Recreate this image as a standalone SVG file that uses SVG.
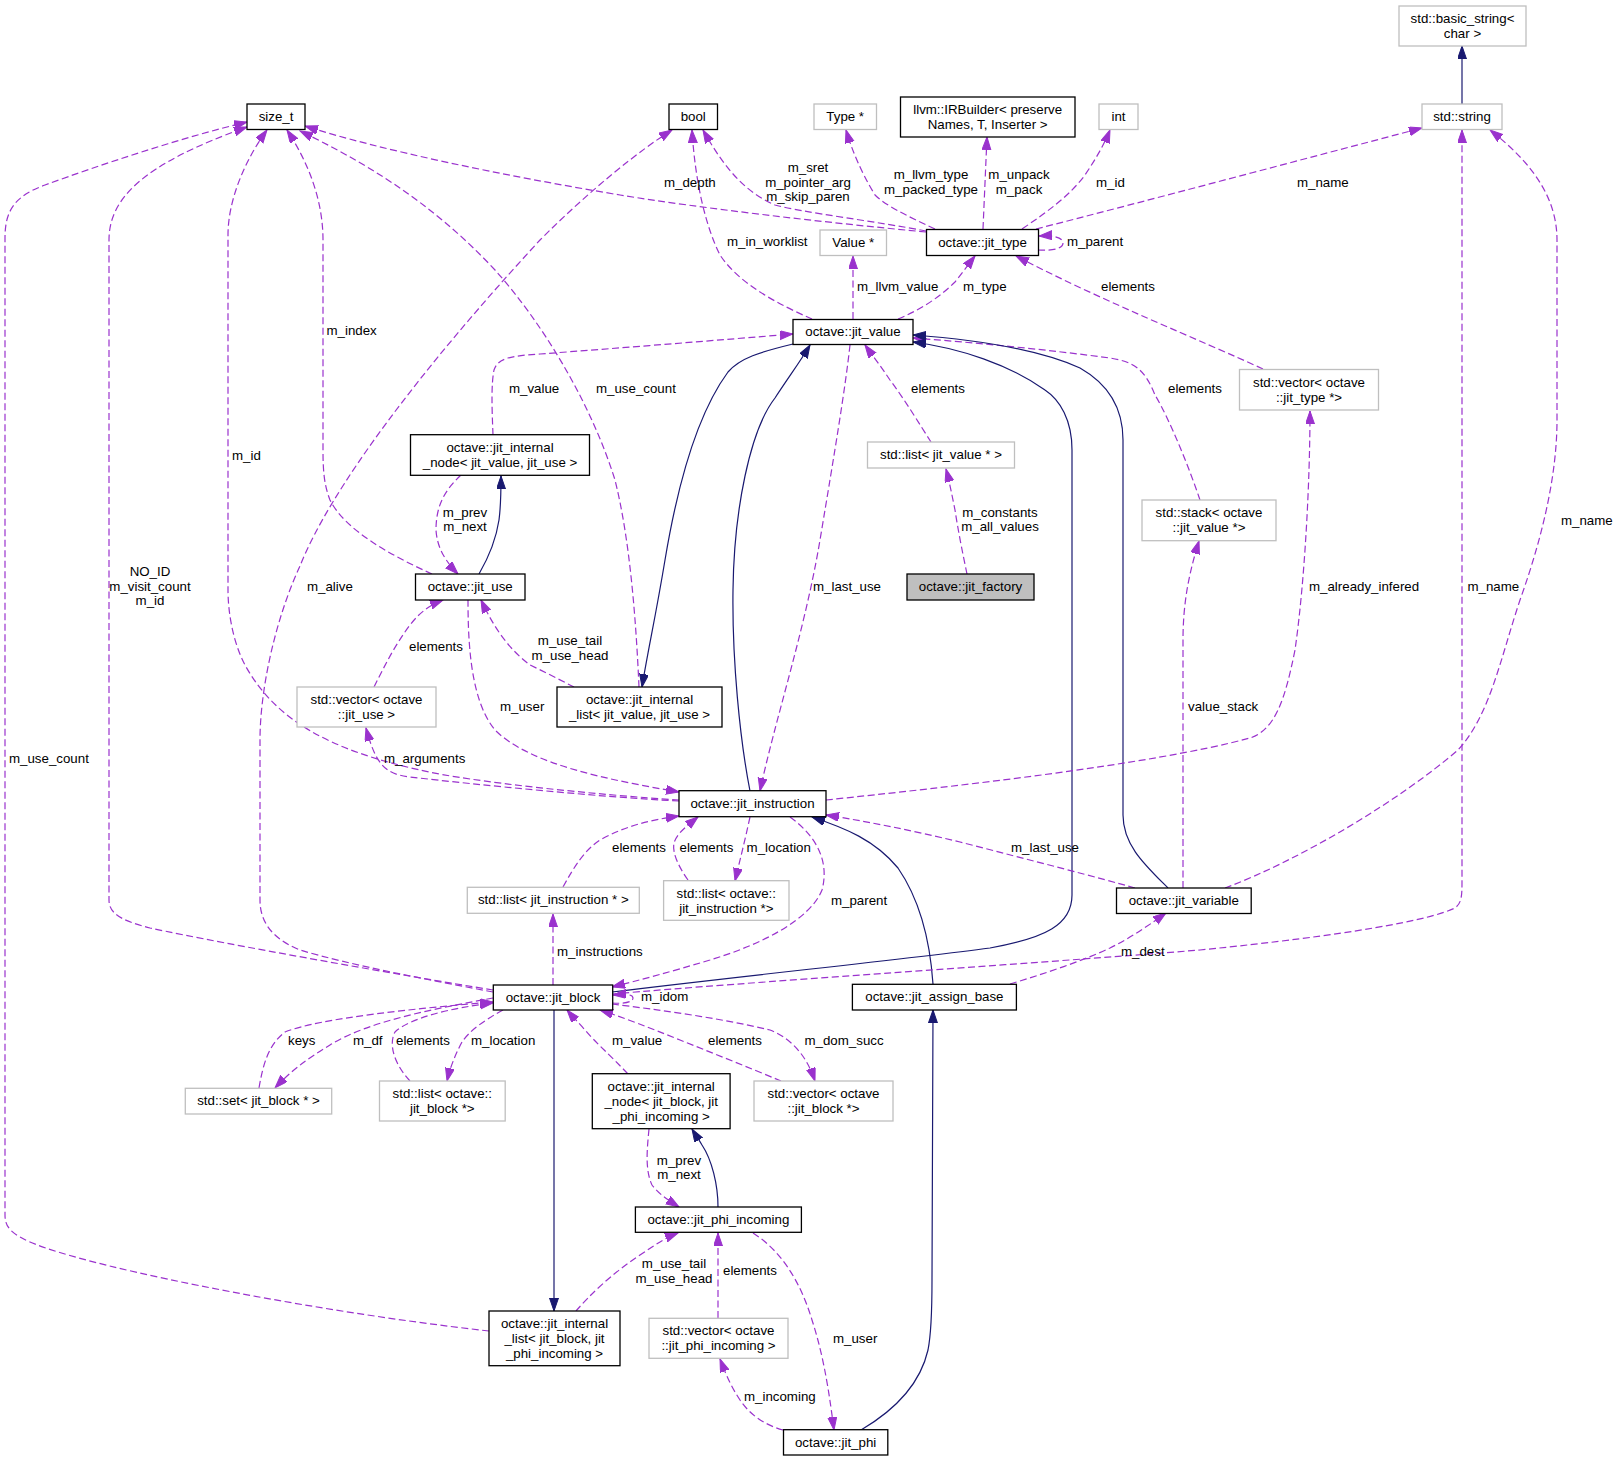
<svg xmlns="http://www.w3.org/2000/svg" width="1620" height="1461" viewBox="0 0 1620 1461">
<style>
text{font-family:"Liberation Sans",Arial,Helvetica,sans-serif;font-size:13.3px;fill:#000}
.n rect{fill:#fff;stroke:#000;stroke-width:1.3}
.n.g rect{stroke:#bfbfbf}
.n.f rect{fill:#bfbfbf}
.n text{text-anchor:middle}
.e path{fill:none;stroke:#9a32cd;stroke-width:1.2;stroke-dasharray:7,3.5;marker-end:url(#ap)}
.e path.i{stroke:#191970;stroke-dasharray:none;marker-end:url(#an)}
.l text.m{text-anchor:middle}
</style>
<defs>
<marker id="ap" markerUnits="userSpaceOnUse" markerWidth="14" markerHeight="10" refX="13" refY="4.5" orient="auto"><path d="M0,0 L13,4.5 L0,9 z" fill="#9a32cd" stroke="#9a32cd"/></marker>
<marker id="an" markerUnits="userSpaceOnUse" markerWidth="14" markerHeight="10" refX="13" refY="4.5" orient="auto"><path d="M0,0 L13,4.5 L0,9 z" fill="#191970" stroke="#191970"/></marker>
</defs>
<rect width="1620" height="1461" fill="#fff"/>

<g id="connectors" class="e">
<path class="i" d="M1462,104 L1462,46"/>
<path d="M489,1331 C300,1310 60,1262 20,1237 C8,1230 5,1224 5,1215 L5,238 C5,210 15,196 45,185 C100,165 180,138 247,122"/>
<path d="M493,990 C400,975 230,945 150,928 C118,920 109,912 109,900 L109,240 C109,200 140,165 247,127"/>
<path d="M679,800 C600,795 470,782 420,770 C330,750 275,720 245,665 C232,640 228,610 228,590 L228,235 C228,200 245,160 267,130"/>
<path d="M432,574 C390,555 345,530 330,500 C324,485 323,470 323,450 L323,240 C323,190 300,150 287,130"/>
<path d="M639,687 C636,620 630,540 615,480 C590,400 540,320 495,270 C430,200 360,160 300,131"/>
<path d="M926,232 C820,222 700,208 620,195 C500,175 380,150 305,126"/>
<path d="M926,231 C880,222 800,212 775,205 C740,190 720,160 703,130"/>
<path d="M812,319 C780,305 740,285 720,255 C705,225 695,180 692,130"/>
<path d="M493,992 C430,980 350,965 300,950 C270,938 260,920 260,900 L260,740 C260,690 275,620 300,566 C330,490 420,370 540,240 C590,190 640,150 672,130"/>
<path d="M935,229 C905,215 885,205 875,195 C860,170 852,150 846,130"/>
<path d="M983,229 L987,137"/>
<path d="M1022,229 C1050,210 1070,195 1085,175 C1095,160 1104,145 1110,130"/>
<path d="M1036,229 C1150,200 1300,160 1422,128"/>
<path d="M1038,250 C1055,251 1063,248 1063,243 C1063,238 1055,235 1039,236"/>
<path d="M1263,369 C1200,340 1100,300 1016,256"/>
<path d="M853,319 L853,256"/>
<path d="M898,319 C920,310 940,297 955,282 C963,272 968,265 975,256"/>
<path d="M493,435 C492,410 491,385 494,370 C498,358 510,356 540,354 C620,348 720,340 793,334"/>
<path d="M931,442 C920,425 905,400 890,380 C880,365 872,355 865,345"/>
<path d="M1200,500 C1190,470 1170,420 1155,395 C1145,370 1135,362 1110,358 C1050,350 980,343 913,338"/>
<path class="i" d="M1168,888 C1145,865 1123,845 1123,815 L1123,440 C1123,410 1110,385 1080,368 C1040,350 980,340 913,335"/>
<path class="i" d="M612,992 C750,975 900,960 990,948 C1045,938 1072,925 1072,895 L1072,450 C1072,420 1060,400 1045,390 C1010,365 960,348 913,342"/>
<path class="i" d="M793,344 C760,352 740,358 728,372 C700,410 680,470 665,560 C655,620 648,650 642,687"/>
<path class="i" d="M750,791 C740,740 732,660 733,590 C734,510 750,430 775,398 C790,375 800,362 810,345"/>
<path d="M850,345 C845,390 835,450 820,540 C805,630 775,720 760,791"/>
<path class="i" d="M479,574 C490,555 496,540 499,520 C501,505 501,490 501,476"/>
<path d="M461,475 C445,490 436,505 436,530 C437,548 446,562 458,574"/>
<path d="M374,687 C385,665 395,645 410,625 C420,612 430,605 443,600"/>
<path d="M574,687 C560,680 545,672 530,665 C510,650 495,630 481,600"/>
<path d="M468,600 C468,640 470,700 495,730 C530,765 610,780 679,792"/>
<path d="M679,801 C600,797 480,785 410,777 C385,774 376,765 366,728"/>
<path d="M826,800 C950,787 1150,765 1250,738 C1275,730 1285,700 1295,650 C1305,580 1310,480 1310,411"/>
<path d="M967,574 C963,555 958,530 955,510 C952,495 949,480 946,469"/>
<path d="M563,887 C575,865 585,850 600,840 C625,826 650,820 679,816"/>
<path d="M688,880 C678,866 672,852 674,843 C677,833 688,825 698,817"/>
<path d="M750,817 C745,840 740,860 735,881"/>
<path d="M790,817 C815,835 830,860 822,890 C810,920 760,945 710,960 C670,972 640,980 612,987"/>
<path d="M1135,888 C1100,878 1030,860 960,842 C910,830 870,822 826,815"/>
<path class="i" d="M933,984 C930,940 920,900 898,868 C875,840 845,828 812,817"/>
<path d="M1183,888 L1183,640 C1183,600 1190,570 1199,541"/>
<path d="M1225,888 C1300,860 1400,800 1458,750 C1490,715 1500,660 1520,600 C1545,530 1557,470 1557,420 L1557,240 C1557,200 1535,165 1490,130"/>
<path d="M612,994 C750,982 1000,966 1200,950 C1350,935 1430,920 1455,908 C1462,903 1462,895 1462,880 L1462,130"/>
<path d="M1010,984 C1040,975 1080,962 1110,948 C1130,938 1145,928 1166,913"/>
<path d="M553,985 L553,914"/>
<path d="M612,1003 C625,1004 633,1002 633,998 C633,994 625,994 613,995"/>
<path d="M259,1088 C263,1065 268,1045 285,1032 C320,1018 420,1008 493,1002"/>
<path d="M493,998 C440,1008 370,1020 330,1045 C305,1060 290,1072 275,1088"/>
<path d="M410,1081 C395,1065 388,1045 395,1032 C410,1018 450,1008 493,1003"/>
<path d="M503,1010 C485,1020 470,1030 462,1042 C455,1055 450,1068 447,1081"/>
<path d="M628,1074 C610,1055 595,1042 585,1030 C578,1022 572,1016 567,1010"/>
<path d="M781,1081 C750,1068 710,1052 680,1040 C650,1028 625,1018 600,1010"/>
<path d="M612,1004 C660,1010 720,1018 770,1030 C795,1040 808,1060 815,1081"/>
<path class="i" d="M554,1010 L554,1311"/>
<path d="M649,1129 C647,1150 645,1170 652,1185 C660,1195 668,1200 679,1207"/>
<path class="i" d="M718,1207 C718,1185 712,1160 702,1145 C698,1138 695,1134 692,1129"/>
<path d="M576,1311 C590,1295 610,1275 640,1255 C655,1245 665,1238 678,1233"/>
<path d="M718,1318 L718,1233"/>
<path d="M753,1233 C780,1250 800,1280 812,1320 C825,1360 830,1400 834,1430"/>
<path d="M783,1430 C765,1425 750,1415 740,1400 C730,1385 725,1372 720,1359"/>
<path class="i" d="M861,1430 C895,1410 920,1385 928,1350 C932,1330 932,1300 932,1280 L933,1010"/>
</g>

<g id="labels" class="l">
<text x="326.5" y="335">m_index</text>
<text x="509" y="393">m_value</text>
<text x="596" y="393">m_use_count</text>
<text x="664" y="187">m_depth</text>
<text class="m" x="808" y="172">m_sret</text>
<text class="m" x="808" y="187">m_pointer_arg</text>
<text class="m" x="808" y="201">m_skip_paren</text>
<text class="m" x="931" y="179">m_llvm_type</text>
<text class="m" x="931" y="194">m_packed_type</text>
<text class="m" x="1019" y="179">m_unpack</text>
<text class="m" x="1019" y="194">m_pack</text>
<text x="1096" y="187">m_id</text>
<text x="1297" y="187">m_name</text>
<text x="727" y="246">m_in_worklist</text>
<text x="1067" y="246">m_parent</text>
<text x="857" y="291">m_llvm_value</text>
<text x="963" y="291">m_type</text>
<text x="1101" y="291">elements</text>
<text x="911" y="393">elements</text>
<text x="1168" y="393">elements</text>
<text x="232" y="459.5">m_id</text>
<text class="m" x="465" y="517">m_prev</text>
<text class="m" x="465" y="531">m_next</text>
<text class="m" x="150" y="576">NO_ID</text>
<text class="m" x="150" y="591">m_visit_count</text>
<text class="m" x="150" y="605">m_id</text>
<text x="307" y="591">m_alive</text>
<text x="409" y="651">elements</text>
<text x="500" y="711">m_user</text>
<text x="9" y="763">m_use_count</text>
<text x="384" y="763">m_arguments</text>
<text class="m" x="570" y="644.5">m_use_tail</text>
<text class="m" x="570" y="659.5">m_use_head</text>
<text x="813" y="591">m_last_use</text>
<text class="m" x="1000" y="517">m_constants</text>
<text class="m" x="1000" y="531">m_all_values</text>
<text x="1309" y="591">m_already_infered</text>
<text x="1467.5" y="591">m_name</text>
<text x="1561" y="524.5">m_name</text>
<text x="1188" y="711">value_stack</text>
<text x="612" y="852">elements</text>
<text x="679.5" y="852">elements</text>
<text x="746.6" y="852">m_location</text>
<text x="1011" y="852">m_last_use</text>
<text x="831" y="904.5">m_parent</text>
<text x="557" y="956">m_instructions</text>
<text x="1121" y="956">m_dest</text>
<text x="641" y="1001">m_idom</text>
<text x="288" y="1045">keys</text>
<text x="353" y="1045">m_df</text>
<text x="396" y="1045">elements</text>
<text x="471" y="1045">m_location</text>
<text x="612" y="1045">m_value</text>
<text x="708" y="1045">elements</text>
<text x="804.5" y="1045">m_dom_succ</text>
<text class="m" x="679" y="1164.5">m_prev</text>
<text class="m" x="679" y="1179">m_next</text>
<text class="m" x="674" y="1268">m_use_tail</text>
<text class="m" x="674" y="1283">m_use_head</text>
<text x="723" y="1275">elements</text>
<text x="833" y="1342.5">m_user</text>
<text x="744" y="1401">m_incoming</text>
</g>

<g id="size_t" class="n"><rect x="247" y="104" width="58" height="25.5"/><text x="276" y="120.5">size_t</text></g>
<g id="bool" class="n"><rect x="669" y="104" width="48.5" height="25.5"/><text x="693.2" y="120.5">bool</text></g>
<g id="type_ptr" class="n g"><rect x="814" y="104" width="62.5" height="25.5"/><text x="845.2" y="120.5">Type *</text></g>
<g id="irbuilder" class="n"><rect x="900.5" y="97" width="174.5" height="40"/><text x="987.7" y="114">llvm::IRBuilder&lt; preserve</text><text x="987.7" y="129">Names, T, Inserter &gt;</text></g>
<g id="int" class="n g"><rect x="1099" y="104" width="39" height="25.5"/><text x="1118.5" y="120.5">int</text></g>
<g id="basic_string" class="n g"><rect x="1399" y="6" width="127" height="40"/><text x="1462.5" y="23">std::basic_string&lt;</text><text x="1462.5" y="38">char &gt;</text></g>
<g id="std_string" class="n g"><rect x="1422" y="104" width="80" height="25.5"/><text x="1462" y="120.5">std::string</text></g>
<g id="jit_type" class="n"><rect x="926.5" y="229.5" width="112" height="26"/><text x="982.5" y="246.5">octave::jit_type</text></g>
<g id="value_ptr" class="n g"><rect x="820" y="230" width="66.5" height="25.5"/><text x="853.2" y="246.5">Value *</text></g>
<g id="jit_value" class="n"><rect x="793" y="319.5" width="120" height="25"/><text x="853" y="336">octave::jit_value</text></g>
<g id="vector_jit_type" class="n g"><rect x="1239.5" y="369.5" width="139" height="40.5"/><text x="1309" y="386.5">std::vector&lt; octave</text><text x="1309" y="401.5">::jit_type *&gt;</text></g>
<g id="internal_node_value" class="n"><rect x="410.5" y="434.7" width="179" height="40.6"/><text x="500" y="451.5">octave::jit_internal</text><text x="500" y="466.5">_node&lt; jit_value, jit_use &gt;</text></g>
<g id="list_jit_value" class="n g"><rect x="867.5" y="442" width="147" height="26"/><text x="941" y="459">std::list&lt; jit_value * &gt;</text></g>
<g id="stack_jit_value" class="n g"><rect x="1142" y="500" width="134" height="40.7"/><text x="1209" y="517">std::stack&lt; octave</text><text x="1209" y="532">::jit_value *&gt;</text></g>
<g id="jit_use" class="n"><rect x="415.5" y="574" width="109.5" height="26"/><text x="470.2" y="591">octave::jit_use</text></g>
<g id="jit_factory" class="n f"><rect x="907" y="574" width="127" height="26"/><text x="970.5" y="591">octave::jit_factory</text></g>
<g id="vector_jit_use" class="n g"><rect x="297" y="687" width="139" height="40"/><text x="366.5" y="704">std::vector&lt; octave</text><text x="366.5" y="719">::jit_use &gt;</text></g>
<g id="internal_list_value" class="n"><rect x="557" y="687" width="165" height="40"/><text x="639.5" y="704">octave::jit_internal</text><text x="639.5" y="719">_list&lt; jit_value, jit_use &gt;</text></g>
<g id="jit_instruction" class="n"><rect x="679" y="790.7" width="147" height="26"/><text x="752.5" y="807.5">octave::jit_instruction</text></g>
<g id="list_jit_instruction" class="n g"><rect x="467.3" y="887.3" width="172" height="26"/><text x="553.3" y="904">std::list&lt; jit_instruction * &gt;</text></g>
<g id="list_octave_jit_instruction" class="n g"><rect x="663.6" y="880.7" width="125.4" height="39.6"/><text x="726.3" y="897.5">std::list&lt; octave::</text><text x="726.3" y="912.5">jit_instruction *&gt;</text></g>
<g id="jit_variable" class="n"><rect x="1116.5" y="888" width="134.7" height="25.5"/><text x="1183.8" y="904.5">octave::jit_variable</text></g>
<g id="jit_block" class="n"><rect x="493.3" y="985" width="119.4" height="25"/><text x="553" y="1001.5">octave::jit_block</text></g>
<g id="jit_assign_base" class="n"><rect x="852.4" y="984.3" width="164" height="25.7"/><text x="934.4" y="1001">octave::jit_assign_base</text></g>
<g id="set_jit_block" class="n g"><rect x="185.3" y="1088.3" width="146.4" height="25.7"/><text x="258.5" y="1105">std::set&lt; jit_block * &gt;</text></g>
<g id="list_jit_block" class="n g"><rect x="379.5" y="1081" width="125.7" height="40"/><text x="442.3" y="1098">std::list&lt; octave::</text><text x="442.3" y="1113">jit_block *&gt;</text></g>
<g id="internal_node_block" class="n"><rect x="592.3" y="1073.7" width="137.8" height="55"/><text x="661.2" y="1090.5">octave::jit_internal</text><text x="661.2" y="1105.5">_node&lt; jit_block, jit</text><text x="661.2" y="1120.5">_phi_incoming &gt;</text></g>
<g id="vector_jit_block" class="n g"><rect x="754" y="1081" width="139" height="40"/><text x="823.5" y="1098">std::vector&lt; octave</text><text x="823.5" y="1113">::jit_block *&gt;</text></g>
<g id="jit_phi_incoming" class="n"><rect x="635.4" y="1207" width="166" height="25.3"/><text x="718.4" y="1223.5">octave::jit_phi_incoming</text></g>
<g id="internal_list_block" class="n"><rect x="489" y="1311" width="131" height="54.7"/><text x="554.5" y="1328">octave::jit_internal</text><text x="554.5" y="1343">_list&lt; jit_block, jit</text><text x="554.5" y="1358">_phi_incoming &gt;</text></g>
<g id="vector_phi_incoming" class="n g"><rect x="649" y="1318.3" width="139" height="40"/><text x="718.5" y="1335">std::vector&lt; octave</text><text x="718.5" y="1350">::jit_phi_incoming &gt;</text></g>
<g id="jit_phi" class="n"><rect x="783.5" y="1429.7" width="104.3" height="25.3"/><text x="835.6" y="1446.5">octave::jit_phi</text></g>
</svg>
